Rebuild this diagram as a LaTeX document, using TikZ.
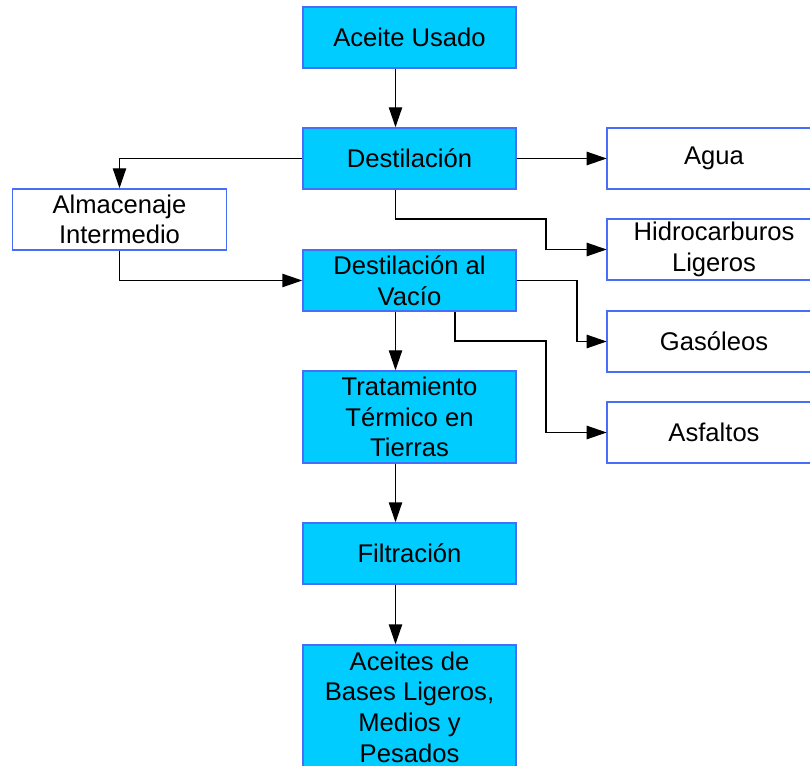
\documentclass[tikz,border=0pt]{standalone}
\usepackage{fontspec}
\setmainfont{Liberation Sans}
\usetikzlibrary{arrows.meta}
\definecolor{boxfill}{RGB}{0,204,255}
\definecolor{boxline}{RGB}{70,110,250}
\begin{document}
\begin{tikzpicture}[x=0.75pt,y=-0.75pt,
  every node/.style={font=\fontsize{19.2pt}{23pt}\selectfont, align=center, inner sep=0pt},
  proc/.style={draw=boxline, line width=1.1pt, fill=boxfill, minimum width=159.75pt, minimum height=45.75pt},
  outbox/.style={minimum width=160.5pt, minimum height=45.75pt},
  outframe/.style={draw=boxline, line width=1.1pt, fill=white},
  conn/.style={draw=black, line width=1.1pt, -{Triangle[length=15pt,width=10pt]}}]
\useasboundingbox (0,0) rectangle (810,766);
\fill[white] (0,0) rectangle (810,766);
\foreach \y in {128,219,311,402} \draw[outframe] (830,\y) -- (607,\y) -- (607,\y+61) -- (830,\y+61);
\node[proc] (au) at (409.5,37.5) {Aceite Usado};
\node[proc] (dest) at (409.5,158.5) {Destilación};
\node[proc] (vac) at (409.5,280.5) {Destilación al\\Vacío};
\node[proc, minimum height=69pt] (trat) at (409.5,417) {Tratamiento\\Térmico en\\Tierras};
\node[proc, minimum height=93pt] (acei) at (409.5,707) {Aceites de\\Bases Ligeros,\\Medios y\\Pesados};
\node[proc] (filt) at (409.5,553.5) {Filtración};
\node[draw=boxline, line width=1.1pt, fill=white, minimum width=160.5pt, minimum height=45.75pt] (alm) at (119.5,219.5) {Almacenaje\\Intermedio};
\node[outbox] (agua) at (714,158.5) {Agua};
\node[outbox] (hidro) at (714,249.5) {Hidrocarburos\\Ligeros};
\node[outbox] (gas) at (714,341.5) {Gasóleos};
\node[outbox] (asf) at (714,432.5) {Asfaltos};
\coordinate (j1) at (546,219);
\coordinate (j2) at (577,300);
\coordinate (j3) at (546,341);
\draw[conn] ([xshift=-10.5pt]au.south) -- ([xshift=-10.5pt]dest.north);
\draw[conn] (dest.west) -| (alm.north);
\draw[conn] (dest.east) -- (agua.west);
\draw[conn] ([xshift=-10.5pt]dest.south) |- (j1) |- (hidro.west);
\draw[conn] (alm.south) |- (vac.west);
\draw[conn] (vac.east) -| (j2) |- (gas.west);
\draw[conn] ([xshift=34pt]vac.south) |- (j3) |- (asf.west);
\draw[conn] ([xshift=-10.5pt]vac.south) -- ([xshift=-10.5pt]trat.north);
\draw[conn] ([xshift=-10.5pt]trat.south) -- ([xshift=-10.5pt]filt.north);
\draw[conn] ([xshift=-10.5pt]filt.south) -- ([xshift=-10.5pt]acei.north);
\end{tikzpicture}
\end{document}
